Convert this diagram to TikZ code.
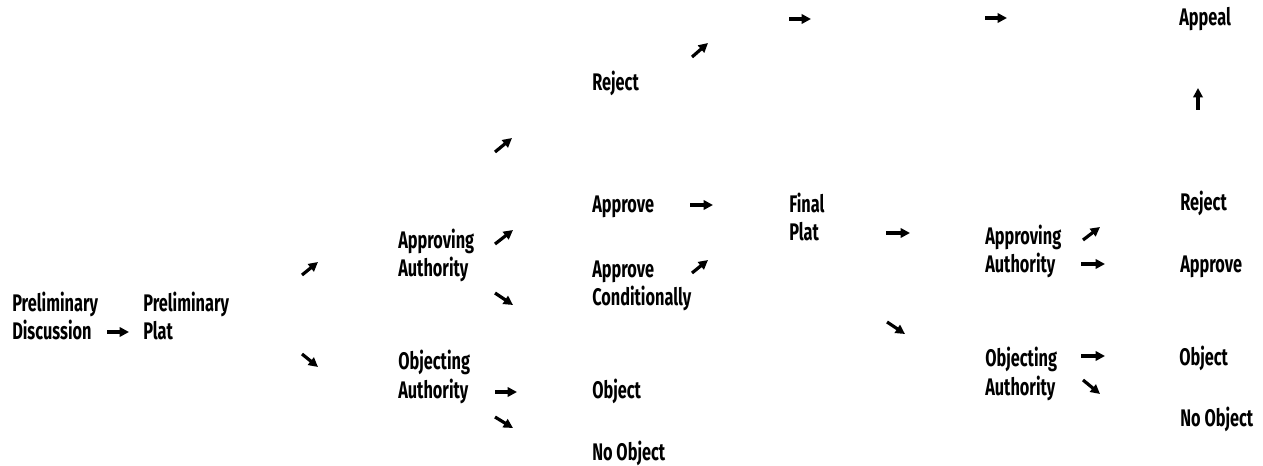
\documentclass[tikz,border=0pt]{standalone}
\usepackage{fontspec}
\setmainfont{Fira Sans}[FakeStretch=0.68]
\usetikzlibrary{arrows.meta}
\tikzset{
  lbl/.style={anchor=base west, inner sep=0pt, align=left,
    font=\fontsize{18}{21.4}\selectfont\bfseries},
  arr/.style={line width=2.4pt, -{Triangle[length=7pt,width=7pt]}}
}
\begin{document}
\begin{tikzpicture}[x=0.75pt,y=-0.75pt]
\useasboundingbox (0,0) rectangle (1263,466);
% labels (multi-line nodes are anchored on their last line)
\node[lbl] (t1) at (12,340) {Preliminary\\Discussion};
\node[lbl] (t2) at (143,340) {Preliminary\\Plat};
\node[lbl] (t3) at (398,277) {Approving\\Authority};
\node[lbl] (t4) at (398,398) {Objecting\\Authority};
\node[lbl] (t5) at (592,91) {Reject};
\node[lbl] (t6) at (592,213) {Approve};
\node[lbl] (t7) at (592,306) {Approve\\Conditionally};
\node[lbl] (t8) at (592,398) {Object};
\node[lbl] (t9) at (592,460) {No Object};
\node[lbl] (t10) at (789,241) {Final\\Plat};
\node[lbl] (t11) at (985,273) {Approving\\Authority};
\node[lbl] (t12) at (985,395) {Objecting\\Authority};
\node[lbl] (t13) at (1179,26) {Appeal};
\node[lbl] (t14) at (1180,211) {Reject};
\node[lbl] (t15) at (1180,273) {Approve};
\node[lbl] (t16) at (1179,366) {Object};
\node[lbl] (t17) at (1180,426) {No Object};
% arrow end points
\coordinate (a1s) at (107,332);  \coordinate (a1e) at (129,332);
\coordinate (a2s) at (302,275);  \coordinate (a2e) at (318,262);
\coordinate (a3s) at (302,354);  \coordinate (a3e) at (318,367);
\coordinate (a4s) at (495,244);  \coordinate (a4e) at (513,230);
\coordinate (a5s) at (495,293);  \coordinate (a5e) at (513,305);
\coordinate (a6s) at (495,152);  \coordinate (a6e) at (512,138);
\coordinate (a7s) at (495,392);  \coordinate (a7e) at (517,392);
\coordinate (a8s) at (495,417);  \coordinate (a8e) at (513,428);
\coordinate (a9s) at (692,57);   \coordinate (a9e) at (708,43);
\coordinate (a10s) at (690,205); \coordinate (a10e) at (713,205);
\coordinate (a11s) at (692,273); \coordinate (a11e) at (708,260);
\coordinate (a12s) at (789,19);  \coordinate (a12e) at (811,19);
\coordinate (a13s) at (985,18);  \coordinate (a13e) at (1007,18);
\coordinate (a14s) at (886,233); \coordinate (a14e) at (910,233);
\coordinate (a15s) at (887,322); \coordinate (a15e) at (905,334);
\coordinate (a16s) at (1083,240); \coordinate (a16e) at (1100,227);
\coordinate (a17s) at (1081,264); \coordinate (a17e) at (1105,264);
\coordinate (a18s) at (1081,356); \coordinate (a18e) at (1105,356);
\coordinate (a19s) at (1083,380); \coordinate (a19e) at (1100,394);
\coordinate (a20s) at (1198,110); \coordinate (a20e) at (1198,88);
\foreach \i in {1,...,20} {\draw[arr] (a\i s) -- (a\i e);}
\end{tikzpicture}
\end{document}
